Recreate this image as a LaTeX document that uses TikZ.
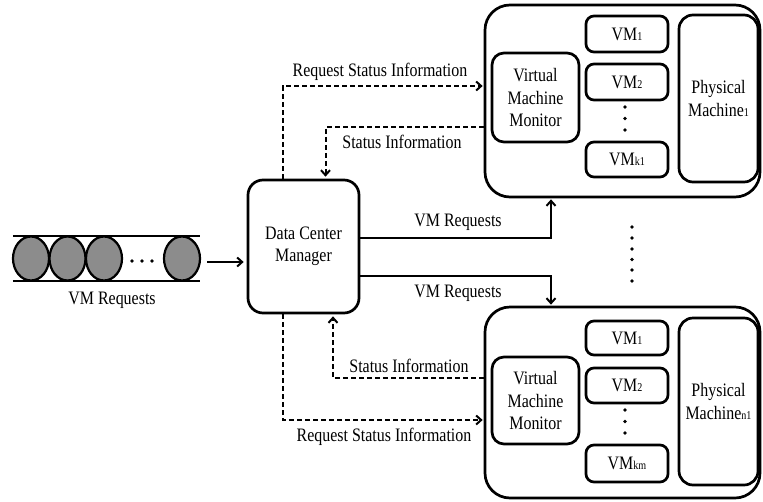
\documentclass[tikz,border=0pt]{standalone}
\usepackage{fontspec}
\setmainfont{Liberation Serif}[FakeStretch=0.84]
\usetikzlibrary{arrows.meta,calc,shapes.geometric}

% small lowered index used in VM and machine names
\newcommand\idx[1]{{\fontsize{12}{12}\selectfont #1}}

\begin{document}
\begin{tikzpicture}[x=1pt,y=-1pt,
  txt/.style={font=\fontsize{19}{22.5}\selectfont, align=center, inner sep=0pt},
  rbox/.style={draw, line width=2.7pt, rounded corners=#1, inner sep=0pt,
    font=\fontsize{19}{22.5}\selectfont, align=center},
  rbox/.default=10pt,
  arr/.style={line width=2pt, -{Straight Barb[length=5pt,width=9pt]}},
  darr/.style={arr, dash pattern=on 5pt off 3pt},
  dot/.style={circle, fill, inner sep=0pt, minimum size=3.8pt},
  ball/.style={ellipse, draw, line width=2.2pt, fill=black!45,
    minimum width=36pt, minimum height=44pt, inner sep=0pt}
]
\useasboundingbox (0,0) rectangle (763,501);

% request queue
\node[inner sep=0pt, minimum width=187pt, minimum height=45pt] (queue) at (106.5,258.5) {};
\draw[line width=2.2pt] (queue.north west) -- (queue.north east);
\draw[line width=2.2pt] (queue.south west) -- (queue.south east);
\node[ball] (b1) at (31,258.5) {};
\node[ball] (b2) at (67.5,258.5) {};
\node[ball] (b3) at (104,258.5) {};
\node[ball] (b4) at (182,258.5) {};
\node[dot] (q1) at (132,261) {};
\node[dot] (q2) at (142,261) {};
\node[dot] (q3) at (152,261) {};
\node[txt] (qlbl) at (112,300) {VM Requests};

% data center manager
\node[rbox=15pt, minimum width=111pt, minimum height=133pt] (dcm) at (303.5,246.5)
  {Data Center\\Manager};

% physical machine 1
\node[rbox=25pt, minimum width=275pt, minimum height=192pt] (pm1) at (622.5,101) {};
\node[rbox=12pt, minimum width=87pt, minimum height=89pt] (vmm1) at (535.5,97.5)
  {Virtual\\Machine\\Monitor};
\node[rbox=8pt, minimum width=82pt, minimum height=36pt] (vm11) at (627,34) {VM\idx{1}};
\node[rbox=8pt, minimum width=82pt, minimum height=36pt] (vm12) at (627,82) {VM\idx{2}};
\node[rbox=8pt, minimum width=82pt, minimum height=35pt] (vm1k) at (627,159.5) {VM\idx{k1}};
\node[dot] (d11) at (625,107) {};
\node[dot] (d12) at (625,118.5) {};
\node[dot] (d13) at (625,130) {};
\node[rbox=14pt, minimum width=79pt, minimum height=167pt] (ph1) at (718.5,98.5)
  {Physical\\Machine\idx{1}};

% physical machine n
\node[rbox=25pt, minimum width=275pt, minimum height=191pt] (pm2) at (622.5,402.5) {};
\node[rbox=12pt, minimum width=87pt, minimum height=87pt] (vmm2) at (535.5,400.5)
  {Virtual\\Machine\\Monitor};
\node[rbox=8pt, minimum width=82pt, minimum height=34pt] (vm21) at (627,338) {VM\idx{1}};
\node[rbox=8pt, minimum width=82pt, minimum height=35pt] (vm22) at (627,385.5) {VM\idx{2}};
\node[rbox=8pt, minimum width=82pt, minimum height=37pt] (vm2k) at (627,463.5) {VM\idx{km}};
\node[dot] (d21) at (625,410) {};
\node[dot] (d22) at (625,421.5) {};
\node[dot] (d23) at (625,433) {};
\node[rbox=14pt, minimum width=79pt, minimum height=167pt] (ph2) at (718.5,401.5)
  {Physical\\Machine\idx{n1}};

% machines in between
\foreach \i/\yy in {1/227,2/238,3/249,4/259.5,5/270,6/281}
  \node[dot] (m\i) at (632,\yy) {};

% queue feeds the manager
\draw[arr] ([xshift=7pt,yshift=-3.5pt]queue.east) -- ([xshift=-3pt,yshift=-3.5pt]dcm.west |- queue.east);

% status traffic with machine 1
\draw[darr] ([xshift=-20.5pt]dcm.north) |- ([yshift=15pt,xshift=-1pt]pm1.west);
\draw[darr] ([yshift=-26pt]pm1.west) -| ([xshift=22pt,yshift=2pt]dcm.north);
\node[txt] (l1) at (380,72) {Request Status Information};
\node[txt] (l2) at (402,142) {Status Information};

% VM requests to both machines
\draw[arr] ([yshift=8.5pt]dcm.east) -| ([xshift=-71.5pt,yshift=-1pt]pm1.south);
\draw[arr] ([yshift=-29.5pt]dcm.east) -| ([xshift=-71.5pt,yshift=1pt]pm2.north);
\node[txt] (l3) at (458,222) {VM Requests};
\node[txt] (l4) at (458,293) {VM Requests};

% status traffic with machine n
\draw[darr] ([yshift=24.5pt]pm2.west) -| ([xshift=29.5pt,yshift=-2pt]dcm.south);
\draw[darr] ([xshift=-20.5pt]dcm.south) |- ([yshift=-17.5pt,xshift=-1pt]pm2.west);
\node[txt] (l5) at (409,366) {Status Information};
\node[txt] (l6) at (384,437) {Request Status Information};
\end{tikzpicture}
\end{document}
